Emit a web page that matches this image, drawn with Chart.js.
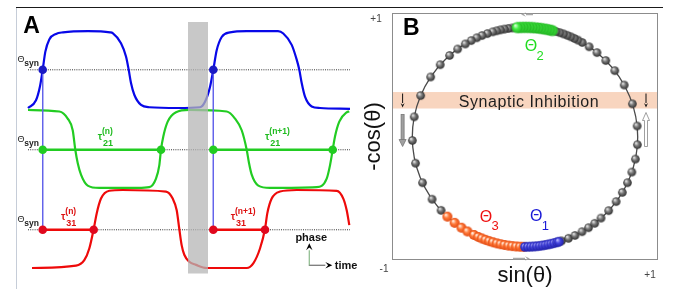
<!DOCTYPE html>
<html>
<head>
<meta charset="utf-8">
<script src="https://cdn.jsdelivr.net/npm/chart.js@4.4.1/dist/chart.umd.min.js"></script>
<style>
  html, body { margin: 0; padding: 0; background: #fff; }
  #wrap { position: relative; width: 676px; height: 289px; overflow: hidden; }
  #chartA { position: absolute; left: 0; top: 0; }
  #chartB { position: absolute; left: 360px; top: 0; }
  #topRule { position: absolute; left: 16px; top: 7px; width: 647px; height: 1.4px; background: #1a1a1a; }
  #leftRule { position: absolute; left: 15.6px; top: 8px; width: 1.2px; height: 281px; background: #c6cdd8; }
</style>
</head>
<body>
<div id="wrap">
  <canvas id="chartA" width="360" height="289"></canvas>
  <canvas id="chartB" width="316" height="289"></canvas>
  <div id="topRule"></div>
  <div id="leftRule"></div>
</div>
<script>
// ---- Panel A: phase traces of three cells (time in arbitrary units, phase 0 = low, 1 = high)
const blueT = [0, 8, 12, 14.7, 17.3, 21.3, 28, 35, 60, 82, 84.7, 93, 98, 100.7, 103, 106.3, 113, 121.3, 150,
               172, 177, 182, 185.3, 188.7, 193.7, 202, 218.7, 250, 255.3, 263.7, 268.7, 271.3, 273.7, 277, 283.7, 292, 322];
const blueV = [0, 0.10, 0.28, 0.49, 0.72, 0.88, 0.95, 0.97, 0.985, 0.97, 0.96, 0.83, 0.66, 0.49, 0.32, 0.17, 0.04, 0.01, 0,
               0.01, 0.08, 0.27, 0.49, 0.74, 0.91, 0.97, 0.985, 0.985, 0.955, 0.81, 0.62, 0.49, 0.32, 0.145, 0.02, 0, -0.01];

const greenT = [0, 31.3, 39.7, 44.7, 47.3, 49.7, 53, 59.7, 71.3, 110, 121.3, 128, 131.3, 133, 135.3, 139.7, 148, 161.3,
                198.7, 207, 213.7, 218.7, 221, 223.7, 230.3, 242, 288.7, 298.7, 302, 304.7, 307, 311.3, 318.7, 321.3];
const greenV = [1.0, 0.98, 0.89, 0.74, 0.49, 0.32, 0.17, 0.03, 0, 0, 0.01, 0.12, 0.29, 0.49, 0.66, 0.85, 0.97, 1.0,
                0.98, 0.89, 0.74, 0.49, 0.32, 0.17, 0.03, 0, 0.01, 0.12, 0.29, 0.49, 0.66, 0.85, 0.97, 0.98];

const redT = [4, 48, 56.3, 61.3, 65.7, 68.7, 73, 81.3, 94.7, 138, 144.7, 148.7, 151.3, 153.7, 156.3, 161.3, 168, 178.7,
              218.7, 225.3, 232, 237, 239.3, 243.7, 252, 268.7, 308.7, 315.3, 318.7, 321.3];
const redV = [0, 0.03, 0.1, 0.25, 0.5, 0.7, 0.89, 0.99, 1.0, 0.98, 0.89, 0.74, 0.5, 0.29, 0.17, 0.08, 0.04, 0,
              0, 0.06, 0.25, 0.5, 0.7, 0.89, 0.98, 1.0, 0.99, 0.89, 0.74, 0.55];

const thetaSyn = 0.49;
const spikeT = [14.7, 185.3];        // cell 1 crosses threshold
const greenCrossT = [133, 304.7];    // cell 2 crosses threshold
const redCrossT = [65.7, 237];       // cell 3 crosses threshold
const shadeT = [160, 180];           // grey window
const tauT = [69.7, 237, 33, 202.7];
const tauSup = ['(n)', '(n+1)', '(n)', '(n+1)'];
const tauSub = ['21', '21', '31', '31'];
const tauRow = [1, 1, 2, 2];

// vertical placement of the three rows (blue, green, red)
const rowOffset = [2.051, 1.026, 0];
const rowColor = ['#0808e8', '#22cc22', '#ee0a0a'];
const dotColor = ['#1a1ac4', '#22cc22', '#e0081e'];
const labelColor = ['#1a1ac4', '#1fbb1f', '#dd1111'];

// ---- Panel B: phase of the balls along the cycle (degrees; x = sin, y = -cos)
const grayPhase = [18.9, 22.7, 26.3, 30.4, 34.3, 38.2, 42.4, 47.9, 54, 59.7, 65.4, 71.4, 78.4, 86, 95.8, 107.6,
                   118.3, 127.2, 134.2, 140.3, 145.3, 149.5, 152, 154, 156, 158, 160, 162, 164,
                   186.5, 188.5, 190.5, 192.5, 194.5, 196.6, 199.5, 202.4, 205.3, 208.5, 212, 216.7, 222, 228.8,
                   236.8, 247.8, 259.4, 271.8, 283.8, 294.6, 304.5, 311.9];
const theta1Phase = [0, 1.5, 3, 4.5, 6, 7.5, 9, 10.5, 12, 13.5, 15, 16.5, 17.5];
const theta2Phase = [166, 167.5, 169, 170.5, 172, 173.5, 175, 176.5, 178, 179.5, 181, 182.5, 184];
const theta3Phase = [316.5, 321.4, 325.7, 329.3, 333.1, 335.5, 337.5, 339.5, 341.5, 343.5, 345.5, 347.5,
                     349.5, 351.5, 353.5, 355.5, 357.5, 359.3];
const inhibitionBand = [0.26, 0.41];   // range of -cos(theta)

const FONT = "'Liberation Sans', Arial, sans-serif";

function rowPoints(ts, vs, off) {
    return ts.map((t, i) => ({ x: t, y: vs[i] + off }));
}

function arrow(ctx, x0, y0, x1, y1, shaftColor, headColor, headLen, headW, shaftW) {
    const ang = Math.atan2(y1 - y0, x1 - x0);
    const bx = x1 - Math.cos(ang) * headLen, by = y1 - Math.sin(ang) * headLen;
    ctx.strokeStyle = shaftColor;
    ctx.lineWidth = shaftW;
    ctx.beginPath(); ctx.moveTo(x0, y0); ctx.lineTo(bx, by); ctx.stroke();
    ctx.fillStyle = headColor;
    ctx.beginPath();
    ctx.moveTo(x1, y1);
    ctx.lineTo(bx - Math.sin(ang) * headW / 2, by + Math.cos(ang) * headW / 2);
    ctx.lineTo(x1 - Math.cos(ang) * headLen * 0.6, y1 - Math.sin(ang) * headLen * 0.6);
    ctx.lineTo(bx + Math.sin(ang) * headW / 2, by - Math.cos(ang) * headW / 2);
    ctx.closePath();
    ctx.fill();
}

// ---------------- Panel A ----------------
const panelA = {
    id: 'panelA',
    afterDatasetsDraw(chart) {
        const { ctx, chartArea: a, scales: { x } } = chart;
        const x0 = x.getPixelForValue(shadeT[0]), x1 = x.getPixelForValue(shadeT[1]);
        ctx.save();
        ctx.fillStyle = 'rgba(182,182,182,0.75)';
        ctx.fillRect(x0, a.top, x1 - x0, a.bottom - a.top);
        ctx.restore();
    },
    afterDraw(chart) {
        const { ctx, chartArea: a, scales: { x, y } } = chart;
        ctx.save();
        ctx.fillStyle = '#000';
        ctx.font = 'bold 23px ' + FONT;
        ctx.textBaseline = 'alphabetic';
        ctx.fillText('A', 23.3, 33.3);

        // threshold labels
        rowOffset.forEach(off => {
            const ty = y.getPixelForValue(thetaSyn + off);
            ctx.fillStyle = '#222';
            ctx.font = '9px ' + FONT;
            ctx.fillText('\u0398', a.left - 10.5, ty - 8);
            ctx.font = 'bold 8.5px ' + FONT;
            ctx.fillText('syn', a.left - 3.7, ty - 3.5);
        });

        // tau labels
        tauT.forEach((t, i) => {
            const r = tauRow[i];
            const tx = x.getPixelForValue(t);
            const ty = y.getPixelForValue(thetaSyn + rowOffset[r]);
            ctx.fillStyle = labelColor[r];
            ctx.font = 'bold 10px ' + FONT;
            ctx.fillText('\u03c4', tx, ty - 10);
            ctx.font = 'bold 8.5px ' + FONT;
            ctx.fillText(tauSup[i], tx + 4.3, ty - 16);
            ctx.font = 'bold 9px ' + FONT;
            ctx.fillText(tauSub[i], tx + 5.2, ty - 3.6);
        });

        // phase / time axes glyph
        const ox = a.right - 40.7, oy = a.bottom - 8.2;
        arrow(ctx, ox, oy + 0.6, ox, oy - 22, '#93bf93', '#000', 7, 6.5, 1.3);
        arrow(ctx, ox, oy, ox + 23, oy, '#7a7a7a', '#000', 7, 6.5, 1.3);
        ctx.fillStyle = '#111';
        ctx.font = 'bold 11px ' + FONT;
        ctx.textAlign = 'center';
        ctx.fillText('phase', ox + 2, oy - 24);
        ctx.textAlign = 'left';
        ctx.fillText('time', ox + 25.5, oy + 4);
        ctx.restore();
    }
};

const datasetsA = [];
// threshold dots (top layer)
rowOffset.forEach((off, r) => {
    const ts = r === 0 ? spikeT : (r === 1 ? [spikeT[0], greenCrossT[0], spikeT[1], greenCrossT[1]]
                                          : [spikeT[0], redCrossT[0], spikeT[1], redCrossT[1]]);
    datasetsA.push({
        data: ts.map(t => ({ x: t, y: thetaSyn + off })),
        showLine: false, pointRadius: 4.3, pointBackgroundColor: dotColor[r],
        pointBorderWidth: 0, order: 0
    });
});
// tau segments
[[greenCrossT, 1], [redCrossT, 2]].forEach(([cross, r]) => {
    const off = rowOffset[r];
    datasetsA.push({
        data: [{ x: spikeT[0], y: thetaSyn + off }, { x: cross[0], y: thetaSyn + off }, { x: cross[0] + 1, y: null },
               { x: spikeT[1], y: thetaSyn + off }, { x: cross[1], y: thetaSyn + off }],
        borderColor: rowColor[r], borderWidth: 2.6, pointRadius: 0, spanGaps: false, order: 1
    });
});
// vertical markers at cell 1 threshold crossings
datasetsA.push({
    data: [{ x: spikeT[0], y: thetaSyn + rowOffset[0] }, { x: spikeT[0], y: thetaSyn + rowOffset[2] }, { x: spikeT[0] + 1, y: null },
           { x: spikeT[1], y: thetaSyn + rowOffset[0] }, { x: spikeT[1], y: thetaSyn + rowOffset[2] }],
    borderColor: '#6363ea', borderWidth: 1, pointRadius: 0, spanGaps: false, order: 2
});
// phase traces
[[blueT, blueV], [greenT, greenV], [redT, redV]].forEach(([ts, vs], r) => {
    datasetsA.push({
        data: rowPoints(ts, vs, rowOffset[r]),
        borderColor: rowColor[r], borderWidth: 2.2, pointRadius: 0,
        cubicInterpolationMode: 'monotone', order: 3
    });
});
// dotted threshold lines
rowOffset.forEach(off => {
    datasetsA.push({
        data: [{ x: 0, y: thetaSyn + off }, { x: 322, y: thetaSyn + off }],
        borderColor: '#333', borderWidth: 1, borderDash: [1, 1.2], pointRadius: 0, order: 4
    });
});
datasetsA.forEach(d => { d.clip = false; });

new Chart(document.getElementById('chartA'), {
    type: 'line',
    data: { datasets: datasetsA },
    options: {
        responsive: false, animation: false, devicePixelRatio: 1, events: [],
        layout: { padding: { left: 28, right: 10, top: 22, bottom: 15.5 } },
        plugins: { legend: { display: false }, tooltip: { enabled: false } },
        scales: {
            x: { type: 'linear', min: 0, max: 322, display: false },
            y: { type: 'linear', min: -0.0705, max: 3.1538, display: false }
        }
    },
    plugins: [panelA]
});

// ---------------- Panel B ----------------
function sphere(r, hi, mid, dark) {
    const c = document.createElement('canvas');
    const s = Math.ceil(2 * r + 2);
    c.width = s; c.height = s;
    const g = c.getContext('2d');
    const cx = s / 2, cy = s / 2;
    const grad = g.createRadialGradient(cx - r * 0.35, cy - r * 0.4, r * 0.08, cx, cy, r);
    grad.addColorStop(0, hi);
    grad.addColorStop(0.45, mid);
    grad.addColorStop(1, dark);
    g.fillStyle = grad;
    g.beginPath(); g.arc(cx, cy, r, 0, Math.PI * 2); g.fill();
    return c;
}

function onCircle(phase) {
    return phase.map(d => ({ x: Math.sin(d * Math.PI / 180), y: -Math.cos(d * Math.PI / 180) }));
}

const panelB = {
    id: 'panelB',
    beforeDatasetsDraw(chart) {
        const { ctx, chartArea: a, scales: { x, y } } = chart;
        ctx.save();
        const yTop = y.getPixelForValue(inhibitionBand[1]), yBot = y.getPixelForValue(inhibitionBand[0]);
        ctx.fillStyle = '#f8d5bf';
        ctx.fillRect(a.left, yTop, a.right - a.left, yBot - yTop);
        ctx.fillStyle = '#1e1e1e';
        ctx.font = '16px ' + FONT;
        ctx.letterSpacing = '0.55px';
        ctx.textAlign = 'center';
        ctx.fillText('Synaptic Inhibition', (a.left + a.right) / 2 + 4, yBot - 1.6);
        ctx.letterSpacing = '0px';

        const cx = x.getPixelForValue(0), cy = y.getPixelForValue(0);
        const rx = x.getPixelForValue(1) - cx, ry = cy - y.getPixelForValue(1);
        ctx.strokeStyle = '#4a4a4a';
        ctx.lineWidth = 1.3;
        ctx.beginPath(); ctx.ellipse(cx, cy, rx, ry, 0, 0, Math.PI * 2); ctx.stroke();
        ctx.restore();
    },
    afterDraw(chart) {
        const { ctx, chartArea: a, scales: { x, y } } = chart;
        ctx.save();
        ctx.strokeStyle = '#8c8c8c';
        ctx.lineWidth = 1;
        ctx.strokeRect(a.left + 0.5, a.top + 0.5, a.right - a.left - 1, a.bottom - a.top - 1);

        // small flow arrows on the box
        arrow(ctx, a.left + 141, a.top + 1.5, a.left + 129, a.top + 1.5, '#a8a8a8', '#a8a8a8', 5, 4.5, 1.5);
        arrow(ctx, a.left + 121, a.bottom - 1.5, a.left + 138, a.bottom - 1.5, '#a8a8a8', '#a8a8a8', 5, 4.5, 1.5);

        // arrows at the inhibition band
        const yTop = y.getPixelForValue(inhibitionBand[1]), yBot = y.getPixelForValue(inhibitionBand[0]);
        const lx = a.left + 10.6, rx = a.right - 12;
        arrow(ctx, lx, yTop + 1.5, lx, yBot - 1, '#111', '#111', 4.5, 4, 1);
        arrow(ctx, rx, yTop + 1.5, rx, yBot - 1, '#111', '#111', 4.5, 4, 1);
        // grey falling arrow (left)
        ctx.fillStyle = '#a0a0a0'; ctx.strokeStyle = '#777'; ctx.lineWidth = 0.8;
        ctx.fillRect(lx - 1.5, yBot + 6, 3, 25);
        ctx.strokeRect(lx - 1.5, yBot + 6, 3, 25);
        ctx.beginPath(); ctx.moveTo(lx - 3.5, yBot + 31); ctx.lineTo(lx + 3.5, yBot + 31); ctx.lineTo(lx, yBot + 38); ctx.closePath();
        ctx.fill(); ctx.stroke();
        // hollow rising arrow (right)
        ctx.fillStyle = '#fff'; ctx.strokeStyle = '#888';
        ctx.beginPath();
        ctx.moveTo(rx - 1.5, yBot + 38); ctx.lineTo(rx - 1.5, yBot + 12); ctx.lineTo(rx - 3.5, yBot + 12);
        ctx.lineTo(rx, yBot + 4); ctx.lineTo(rx + 3.5, yBot + 12); ctx.lineTo(rx + 1.5, yBot + 12);
        ctx.lineTo(rx + 1.5, yBot + 38); ctx.closePath();
        ctx.fill(); ctx.stroke();

        // panel letter and corner ticks
        ctx.fillStyle = '#000';
        ctx.font = 'bold 23px ' + FONT;
        ctx.fillText('B', a.left + 11, a.top + 22);
        ctx.fillStyle = '#444';
        ctx.font = '10px ' + FONT;
        ctx.textAlign = 'center'; ctx.textBaseline = 'middle';
        ctx.fillText('+1', a.left - 16, a.top + 6);
        ctx.fillText('-1', a.left - 8, a.bottom + 9);
        ctx.fillText('+1', a.right - 8, a.bottom + 15);

        // axis titles
        ctx.fillStyle = '#111';
        ctx.font = '22px ' + FONT;
        ctx.fillText('sin(\u03b8)', (a.left + a.right) / 2, a.bottom + 15.5);
        ctx.save();
        ctx.translate(a.left - 18, (a.top + a.bottom) / 2);
        ctx.rotate(-Math.PI / 2);
        ctx.fillText('-cos(\u03b8)', 0, 0);
        ctx.restore();

        // Theta labels
        const thetaLabels = [['2', 0.053, 0.825, '#22dd22'], ['3', -0.346, -0.732, '#ee1111'], ['1', 0.099, -0.728, '#1a1ad6']];
        thetaLabels.forEach(([sub, vx, vy, col]) => {
            const px = x.getPixelForValue(vx), py = y.getPixelForValue(vy);
            ctx.fillStyle = col;
            ctx.textAlign = 'center'; ctx.textBaseline = 'middle';
            ctx.font = '16px ' + FONT;
            ctx.fillText('\u0398', px, py);
            ctx.textAlign = 'left';
            ctx.font = '13px ' + FONT;
            ctx.fillText(sub, px + 5.5, py + 9.5);
        });
        ctx.restore();
    }
};

const graySphere = sphere(4.3, '#e6e6e6', '#7a7a7a', '#2e2e2e');
const blueSphere = sphere(4.8, '#b8b8ff', '#4646e0', '#2020a8');
const greenSphere = sphere(5.6, '#d8ffd8', '#44ee44', '#22b022');
const orangeSphere = sphere(5.0, '#fff0e4', '#ff7a3a', '#e24a12');

new Chart(document.getElementById('chartB'), {
    type: 'scatter',
    data: {
        datasets: [
            { data: onCircle(theta1Phase), pointStyle: blueSphere, pointRadius: 4.8, order: 0 },
            { data: onCircle(theta2Phase), pointStyle: greenSphere, pointRadius: 5.6, order: 0 },
            { data: onCircle(theta3Phase), pointStyle: orangeSphere, pointRadius: 5, order: 1 },
            { data: onCircle(grayPhase), pointStyle: graySphere, pointRadius: 4.3, order: 2 }
        ].map(d => Object.assign(d, { showLine: false, clip: false }))
    },
    options: {
        responsive: false, animation: false, devicePixelRatio: 1, events: [],
        layout: { padding: { left: 32, right: 18, top: 13, bottom: 29 } },
        plugins: { legend: { display: false }, tooltip: { enabled: false } },
        scales: {
            x: { type: 'linear', min: -1.18, max: 1.18, display: false },
            y: { type: 'linear', min: -1.12, max: 1.13, display: false }
        }
    },
    plugins: [panelB]
});
</script>
</body>
</html>
